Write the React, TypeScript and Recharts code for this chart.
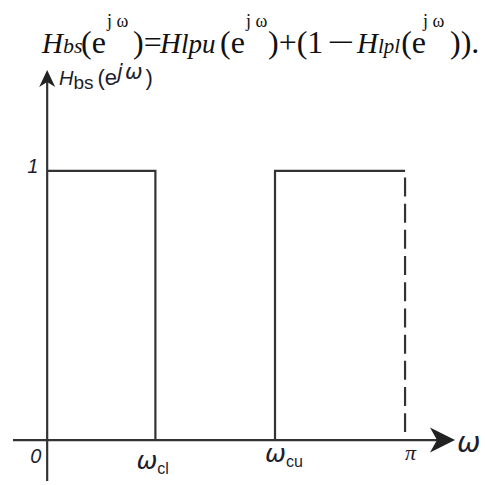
import {
  ComposedChart,
  Customized,
  Line,
  ReferenceDot,
  ReferenceLine,
  XAxis,
  YAxis,
} from "recharts";

// band edges of the band-stop response (rad/sample)
const OMEGA_CL = 0.95;
const OMEGA_CU = 2.0;
const OMEGA_PI = Math.PI;

// passband on the low side: 1 from 0 up to the lower cutoff
const lowBand = [
  { w: 0, h: 1 },
  { w: OMEGA_CL, h: 1 },
  { w: OMEGA_CL, h: 0 },
];

// passband on the high side: 1 from the upper cutoff up to pi
const highBand = [
  { w: OMEGA_CU, h: 0 },
  { w: OMEGA_CU, h: 1 },
  { w: OMEGA_PI, h: 1 },
];

const X_DOMAIN = [-0.3, 3.58];
const Y_DOMAIN = [-0.152, 1.375];

const INK = "#333";
const LABEL = "#1d1d2b";
const SANS = "'Liberation Sans', Arial, sans-serif";
const SERIF = "'Liberation Serif', 'Times New Roman', serif";
const GREEK = "'DejaVu Sans', sans-serif";

// axis line that ends in a swept arrowhead at (x2, y2)
function ArrowAxis(props: any) {
  const { x1, y1, x2, y2, len, half, notch } = props;
  const d = Math.hypot(x2 - x1, y2 - y1) || 1;
  const ux = (x2 - x1) / d;
  const uy = (y2 - y1) / d;
  const px = -uy;
  const py = ux;
  const bx = x2 - ux * len;
  const by = y2 - uy * len;
  const nx = x2 - ux * (len - notch);
  const ny = y2 - uy * (len - notch);
  const head = `M${x2},${y2} L${bx + px * half},${by + py * half} L${nx},${ny} L${bx - px * half},${by - py * half} Z`;
  return (
    <g>
      <line x1={x1} y1={y1} x2={nx} y2={ny} stroke={INK} strokeWidth={2.2} />
      <path d={head} fill="#222" />
    </g>
  );
}

// label with an optional subscript, placed relative to a point on the axes
function makeLabel(
  main: string,
  sub: string | undefined,
  dx: number,
  dy: number,
  size: number,
  family = SANS,
  subSize = 16,
) {
  return ({ viewBox }: any) => {
    const x = viewBox.x + viewBox.width / 2 + dx;
    const y = viewBox.y + viewBox.height / 2 + dy;
    return (
      <text x={x} y={y} fill={LABEL} fontFamily={family} fontStyle="italic" fontSize={size}>
        {main}
        {sub && (
          <tspan fontFamily={SANS} fontSize={subSize} dy={5} fontStyle="normal">
            {sub}
          </tspan>
        )}
      </text>
    );
  };
}

function Formula() {
  const it = { fontStyle: "italic" };
  return (
    <g>
      {/* exponents */}
      <text y={27} fontFamily={SERIF} fontSize={18} fill="#111">
        <tspan x={107}>j ω</tspan>
        <tspan x={246}>j ω</tspan>
        <tspan x={423}>j ω</tspan>
      </text>

      <text y={53} fontFamily={SERIF} fontSize={32} fill="#111">
        <tspan x={42} fontSize={29} {...it}>H</tspan>
        <tspan fontSize={22} {...it}>bs</tspan>
        <tspan x={81}>(e</tspan>
        <tspan x={133}>)=</tspan>
        <tspan x={160} fontSize={29} {...it}>H</tspan>
        <tspan fontSize={27} {...it}>lpu</tspan>
        <tspan x={220}>(e</tspan>
        <tspan x={268}>)+(1</tspan>
        <tspan x={357} fontSize={29} {...it}>H</tspan>
        <tspan fontSize={21} {...it}>lpl</tspan>
        <tspan dx={1}>(e</tspan>
        <tspan x={450}>)).</tspan>
      </text>
      <text
        x={327}
        y={53}
        fontFamily={SERIF}
        fontSize={32}
        fill="#111"
        textLength={27}
        lengthAdjust="spacingAndGlyphs"
      >
        −
      </text>

      {/* vertical axis name */}
      <text y={85} fontFamily={SANS} fontSize={22} fill={LABEL}>
        <tspan x={59} fontSize={20} {...it}>H</tspan>
        <tspan fontSize={19} dy={4}>bs</tspan>
        <tspan dx={4} dy={-4}>(e</tspan>
        <tspan fontFamily={GREEK} fontSize={21} dy={-6} {...it}>
          j<tspan dx={2}>ω</tspan>
        </tspan>
        <tspan dx={3} dy={6}>)</tspan>
      </text>
    </g>
  );
}

export default function App() {
  return (
    <div style={{ position: "absolute", left: 0, top: 0, background: "#fff" }}>
      <ComposedChart
        width={485}
        height={485}
        margin={{ top: 70, right: 30, bottom: 4, left: 13 }}
      >
        <XAxis type="number" dataKey="w" domain={X_DOMAIN} hide allowDataOverflow />
        <YAxis type="number" dataKey="h" domain={Y_DOMAIN} hide allowDataOverflow />

        {/* frequency axis and magnitude axis */}
        <ReferenceLine
          segment={[{ x: X_DOMAIN[0], y: 0 }, { x: X_DOMAIN[1], y: 0 }]}
          ifOverflow="visible"
          shape={(p: any) => <ArrowAxis {...p} len={25} half={12.5} notch={7} />}
        />
        <ReferenceLine
          segment={[{ x: 0, y: Y_DOMAIN[0] }, { x: 0, y: Y_DOMAIN[1] }]}
          ifOverflow="visible"
          shape={(p: any) => <ArrowAxis {...p} len={17} half={8} notch={5} />}
        />

        {/* edge of the band at pi */}
        <ReferenceLine
          segment={[{ x: OMEGA_PI, y: 1 }, { x: OMEGA_PI, y: 0.03 }]}
          stroke={INK}
          strokeWidth={2.2}
          strokeDasharray="0 6.5 19 0.7"
          ifOverflow="visible"
        />

        <Line
          data={lowBand}
          dataKey="h"
          type="linear"
          stroke={INK}
          strokeWidth={2.2}
          dot={false}
          isAnimationActive={false}
        />
        <Line
          data={highBand}
          dataKey="h"
          type="linear"
          stroke={INK}
          strokeWidth={2.2}
          dot={false}
          isAnimationActive={false}
        />

        <ReferenceDot x={0} y={0} r={0} ifOverflow="visible" label={{ content: makeLabel("0", undefined, -17, 23, 20) }} />
        <ReferenceDot x={0} y={1} r={0} ifOverflow="visible" label={{ content: makeLabel("1", undefined, -20, 2, 20) }} />
        <ReferenceDot x={OMEGA_CL} y={0} r={0} ifOverflow="visible" label={{ content: makeLabel("ω", "cl", -19, 29, 25, GREEK) }} />
        <ReferenceDot x={OMEGA_CU} y={0} r={0} ifOverflow="visible" label={{ content: makeLabel("ω", "cu", -10, 22, 25, GREEK) }} />
        <ReferenceDot x={OMEGA_PI} y={0} r={0} ifOverflow="visible" label={{ content: makeLabel("π", undefined, 0, 20, 22, SERIF) }} />
        <ReferenceDot x={X_DOMAIN[1]} y={0} r={0} ifOverflow="visible" label={{ content: makeLabel("ω", undefined, 2, 12, 28, GREEK) }} />

        <Customized component={<Formula />} />
      </ComposedChart>
    </div>
  );
}
